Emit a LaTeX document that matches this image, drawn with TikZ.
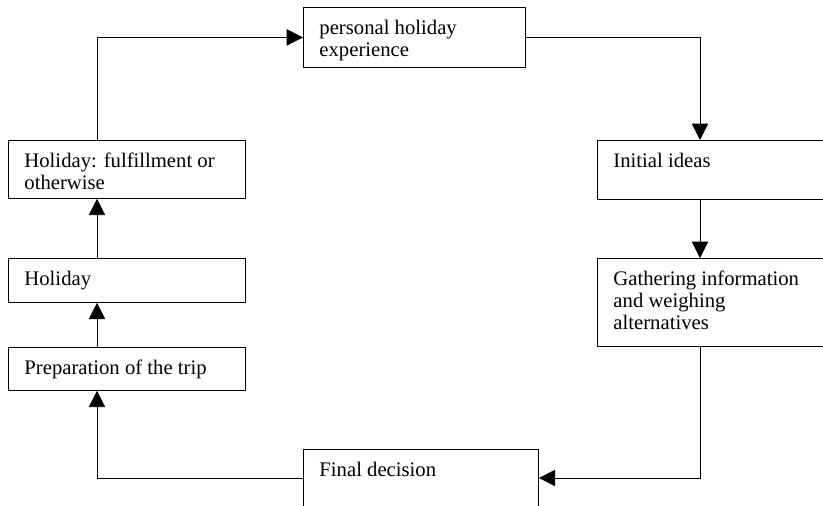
\documentclass[tikz,border=0pt]{standalone}
\usepackage{fontspec}
\setmainfont{Liberation Serif}
\usetikzlibrary{arrows.meta}

% top-aligned text in a box of fixed size
\newcommand{\stagetext}[3]{\parbox[t][#2][t]{#1}{\raggedright\rule{0pt}{15.7pt}#3}}

\begin{document}
\begin{tikzpicture}[x=0.58pt, y=-0.58pt,
    stage/.style={draw, line width=0.5pt, anchor=north west, inner xsep=9.3pt, inner ysep=0pt,
                  font=\fontsize{12}{12.8}\selectfont},
    flow/.style={line width=0.5pt, -{Triangle[length=9.5pt, width=9.5pt]}}]
    \clip (0,0) rectangle (823,506);
    % stages of the cycle
    \node[stage] (exp)    at (303,7)   {\stagetext{110.2pt}{34.8pt}{personal holiday\\experience}};
    \node[stage] (ideas)  at (597,140) {\stagetext{132.2pt}{34.2pt}{Initial ideas}};
    \node[stage] (gather) at (597,258) {\stagetext{132.2pt}{51pt}{Gathering information\\and weighing\\alternatives}};
    \node[stage] (fin)    at (303,449) {\stagetext{117.7pt}{46.4pt}{Final decision}};
    \node[stage] (prep)   at (8,347)   {\stagetext{118.9pt}{24.9pt}{Preparation of the trip}};
    \node[stage] (hol)    at (8,258)   {\stagetext{118.9pt}{25.5pt}{Holiday}};
    \node[stage] (fulfil) at (8,140)   {\stagetext{118.9pt}{33.6pt}{Holiday: fulfillment or\\otherwise}};
    % columns and row of the connectors
    \coordinate (rcol) at (700,0);
    \coordinate (lcol) at (97,0);
    \coordinate (brow) at (0,478);
    % connectors
    \draw[flow] (exp.east) -| (rcol |- ideas.north);
    \draw[flow] (rcol |- ideas.south) -- (rcol |- gather.north);
    \draw[flow] (rcol |- gather.south) |- (fin.east |- brow);
    \draw[flow] (fin.west |- brow) -| (lcol |- prep.south);
    \draw[flow] (lcol |- prep.north) -- (lcol |- hol.south);
    \draw[flow] (lcol |- hol.north) -- (lcol |- fulfil.south);
    \draw[flow] (lcol |- fulfil.north) |- (exp.west);
\end{tikzpicture}
\end{document}
